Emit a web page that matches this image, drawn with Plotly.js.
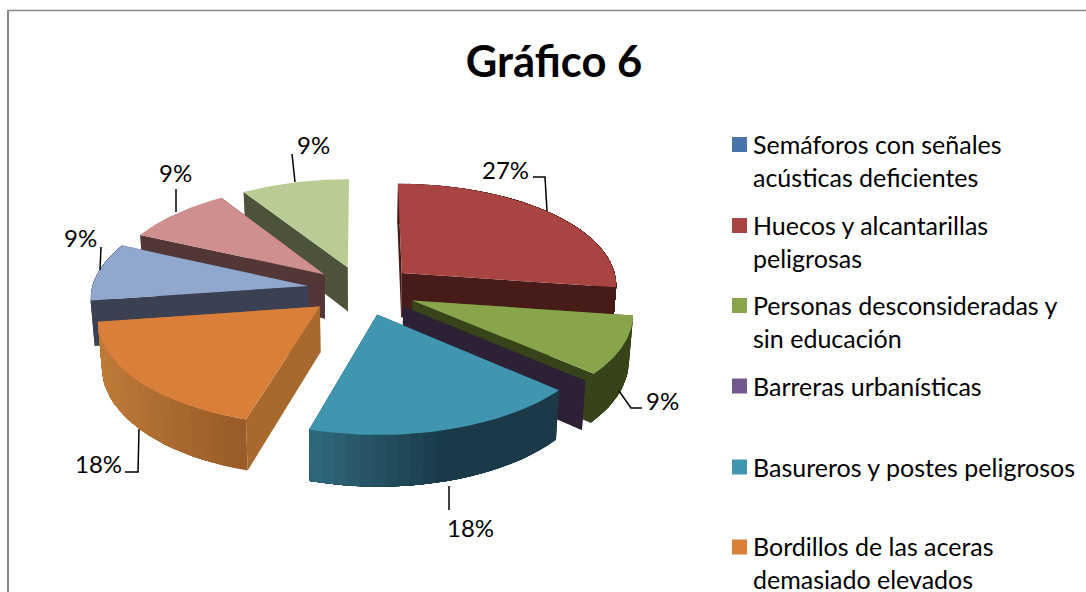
<!DOCTYPE html>
<html>
<head>
<meta charset="utf-8">
<script src="https://cdn.plot.ly/plotly-3.0.1.min.js"></script>
<style>html,body{margin:0;padding:0;background:#fff;overflow:hidden}</style>
</head>
<body>
<div id="chart" style="width:1086px;height:592px"></div>
<script>
// ---- data ----
const chartTitle = "Gráfico 6";
const categories = [
  "Semáforos con señales<br>acústicas deficientes",
  "Huecos y alcantarillas<br>peligrosas",
  "Personas desconsideradas y<br>sin educación",
  "Barreras urbanísticas",
  "Basureros y postes peligrosos",
  "Bordillos de las aceras<br>demasiado elevados",
  "", "", ""
];
const values = [0, 3, 1, 0, 2, 2, 1, 1, 1];

// ---- styles ----
const topColors   = ["#4674AB","#A84543","#89A54C","#71588F","#4095AF","#D97F3A","#90A8CE","#CE8F8E","#B9CC93"];
const innerColors = ["#2A3F5C","#471B17","#374319","#2D2136","#1A3A47","#A7692E","#3B4152","#533636","#4D533A"];
const wallLight   = ["#2A3F5C","#471B17","#3A461B","#2D2136","#2F687C","#BE7A38","#3B4152","#533636","#4D533A"];
const wallDark    = ["#2A3F5C","#471B17","#374319","#2D2136","#1A3A47","#9A5D27","#3B4152","#533636","#4D533A"];
const drawOrder = [8, 7, 0, 1, 6, 5, 2, 3, 4];
const pulls = [0.25, 0.25, 0.255, 0.25, 0.25, 0.25, 0.25, 0.23, 0.23];

const labelPos = {1:[505,169],2:[662,400],4:[470,527],5:[98,463],6:[80,237],7:[175,172],8:[313,144]};
const leaderX = [547,545,533,null, 619,631,642,null, 449,449,null, 139,138,125,null, 100,101,null, 176,176,null, 295,292];
const leaderY = [211,177,177,null, 391,408,408,null, 486,510,null, 429,472,472,null, 270,247,null, 212,189,null, 182,154];
const legendY = [144.5,225.5,305.5,386,467,547];

// ---- projection of the tilted, exploded pie ----
const cx = 361.5, cy = 289.5, A = 216.5, B = 102, k = 0.105, depth = 45, shrink = 0.985;
const rad = d => d * Math.PI / 180;
function project(mid, pull, r, th) {
  const X = pull * Math.sin(rad(mid)) + r * Math.sin(rad(th));
  const Z = pull * Math.cos(rad(mid)) + r * Math.cos(rad(th));
  const s = 1 / (1 + k * Z);
  return {x: cx + A * X * s, y: cy - B * Z * s, s};
}
function lower(p) { return [cx + (p.x - cx) * shrink, p.y + depth * p.s]; }
function poly(points, color) {
  return {type: "scatter", mode: "lines", fill: "toself", fillcolor: color,
    x: points.map(p => p[0]), y: points.map(p => p[1]),
    line: {width: 0}, hoverinfo: "skip", showlegend: false};
}
function mix(c1, c2, t) {
  const h = (c, i) => parseInt(c.substr(1 + 2 * i, 2), 16);
  return "rgb(" + [0,1,2].map(i => Math.round(h(c1,i) + (h(c2,i) - h(c1,i)) * t)).join(",") + ")";
}
const clamp01 = t => Math.min(1, Math.max(0, t));

const total = values.reduce((a, b) => a + b, 0);
const spans = [];
let run = 0;
values.forEach(v => { const a0 = run / total * 360; run += v; spans.push([a0, run / total * 360]); });

const traces = [];
drawOrder.forEach(i => {
  const [t0, t1] = spans[i];
  const mid = (t0 + t1) / 2, pull = pulls[i];
  const apex = project(mid, pull, 0, 0);
  const aT = [apex.x, apex.y], aB = lower(apex);
  [t0, t1].forEach(t => {
    const e = project(mid, pull, 1, t);
    if (Math.abs(e.x - apex.x) < 3) return;   // an edge-on wall shows nothing
    traces.push(poly([aT, [e.x, e.y], lower(e), aB], innerColors[i]));
  });
  if (values[i] > 0) {
    const n = Math.max(2, Math.ceil((t1 - t0) / 3));
    for (let j = 0; j < n; j++) {
      const a = t0 + (t1 - t0) * j / n;
      if (Math.cos(rad(a)) > 0.25 && Math.cos(rad(t1)) > 0.25) continue;
      // each band runs to the far end of the wall, the next one paints over it, so no seams
      const upper = [], under = [];
      for (let m = j; m <= n; m++) {
        const p = project(mid, pull, 1, t0 + (t1 - t0) * m / n);
        upper.push([p.x, p.y]);
        under.unshift(lower(p));
      }
      const pa = project(mid, pull, 1, a);
      const shade = i === 5 ? clamp01((pa.x - 100) / 140) : clamp01((pa.x - 320) / 130);
      traces.push(poly(upper.concat(under), mix(wallLight[i], wallDark[i], shade)));
    }
    const ring = [aT];
    for (let j = 0; j <= 40; j++) {
      const p = project(mid, pull, 1, t0 + (t1 - t0) * j / 40);
      ring.push([p.x, p.y]);
    }
    traces.push(poly(ring, topColors[i]));
  }
});

// leader lines
traces.push({type: "scatter", mode: "lines", x: leaderX, y: leaderY,
  line: {color: "#000", width: 1.5}, hoverinfo: "skip", showlegend: false});

// legend keys
const shown = categories.filter(c => c);
traces.push({type: "scatter", mode: "markers", x: shown.map(() => 739.5), y: legendY,
  marker: {symbol: "square", size: 15, color: topColors.slice(0, shown.length)},
  hoverinfo: "skip", showlegend: false});

const font = "Lato, 'Open Sans', sans-serif";
const annotations = [];
Object.keys(labelPos).forEach(i => annotations.push({
  x: labelPos[i][0], y: labelPos[i][1], xref: "x", yref: "y", showarrow: false,
  text: Math.round(values[i] / total * 100) + "%", font: {family: font, size: 24, color: "#000"},
  xanchor: "center", yanchor: "middle"}));
shown.forEach((c, i) => {
  const lines = c.split("<br>").length;
  annotations.push({
    x: 752, y: legendY[i] - 0.5 + (lines - 1) * 16, xref: "x", yref: "y", showarrow: false, text: c,
    align: "left", xanchor: "left", yanchor: "middle", borderpad: 0,
    font: {family: font, size: 25, color: "#000"}});
});

const layout = {
  width: 1086, height: 592, margin: {l: 0, r: 0, t: 0, b: 0},
  paper_bgcolor: "#fff", plot_bgcolor: "#fff", showlegend: false,
  title: {text: chartTitle, x: 554 / 1086, xanchor: "center", y: 1 - 62 / 592, yanchor: "middle",
    font: {family: font, size: 43.5, weight: 700, color: "#000"}},
  xaxis: {range: [0, 1086], visible: false, fixedrange: true},
  yaxis: {range: [592, 0], visible: false, fixedrange: true},
  shapes: [
    {type: "line", xref: "x", yref: "y", x0: 8, x1: 8, y0: 10, y1: 592, line: {color: "#888", width: 2}},
    {type: "line", xref: "x", yref: "y", x0: 8, x1: 1086, y0: 10.5, y1: 10.5, line: {color: "#888", width: 1.5}}
  ],
  annotations
};
Plotly.newPlot("chart", traces, layout, {displayModeBar: false, staticPlot: true});
</script>
</body>
</html>
